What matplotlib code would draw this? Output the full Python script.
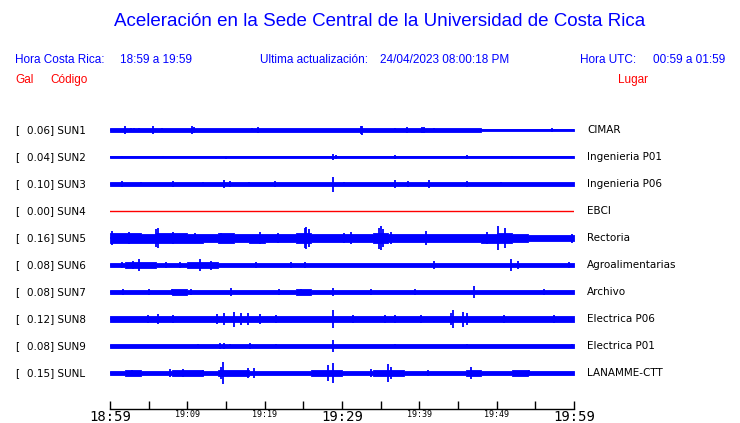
import numpy as np
import matplotlib.pyplot as plt

# estaciones y picos (Gal)
codigos = ['SUN1', 'SUN2', 'SUN3', 'SUN4', 'SUN5', 'SUN6', 'SUN7', 'SUN8', 'SUN9', 'SUNL']
lugares = ['CIMAR', 'Ingenieria P01', 'Ingenieria P06', 'EBCI', 'Rectoria',
           'Agroalimentarias', 'Archivo', 'Electrica P06', 'Electrica P01', 'LANAMME-CTT']
picos = [0.06, 0.04, 0.10, 0.00, 0.16, 0.08, 0.08, 0.12, 0.08, 0.15]

# envolvente del ruido, bloques de 2 minutos (Gal)
env_sun1 = [0.026, 0.026, 0.026, 0.026, 0.024, 0.024, 0.026, 0.026, 0.024, 0.024,
            0.024, 0.024, 0.022, 0.022, 0.024, 0.024, 0.024, 0.026, 0.024, 0.024,
            0.024, 0.024, 0.024, 0.022, 0.018, 0.014, 0.018, 0.014, 0.018, 0.014]
env_sun2 = [0.018, 0.018, 0.016, 0.018, 0.012, 0.018, 0.016, 0.018, 0.014, 0.010,
            0.016, 0.008, 0.014, 0.010, 0.016, 0.014, 0.008, 0.014, 0.018, 0.016,
            0.018, 0.014, 0.010, 0.016, 0.008, 0.014, 0.010, 0.008, 0.012, 0.008]
env_sun3 = [0.030, 0.028, 0.028, 0.030, 0.028, 0.028, 0.028, 0.030, 0.028, 0.028,
            0.028, 0.028, 0.026, 0.026, 0.028, 0.026, 0.028, 0.028, 0.028, 0.030,
            0.028, 0.028, 0.028, 0.028, 0.028, 0.030, 0.032, 0.032, 0.032, 0.032]
env_sun4 = [0.0] * 30
env_sun5 = [0.066, 0.062, 0.060, 0.064, 0.068, 0.060, 0.058, 0.064, 0.058, 0.060,
            0.056, 0.058, 0.068, 0.058, 0.054, 0.052, 0.056, 0.070, 0.056, 0.054,
            0.056, 0.054, 0.052, 0.054, 0.060, 0.066, 0.048, 0.046, 0.046, 0.046]
env_sun6 = [0.032, 0.036, 0.034, 0.030, 0.032, 0.034, 0.036, 0.030, 0.028, 0.028,
            0.030, 0.028, 0.028, 0.026, 0.026, 0.026, 0.026, 0.026, 0.026, 0.026,
            0.028, 0.030, 0.026, 0.026, 0.028, 0.028, 0.030, 0.030, 0.030, 0.030]
env_sun7 = [0.032, 0.032, 0.032, 0.032, 0.034, 0.032, 0.032, 0.032, 0.032, 0.030,
            0.032, 0.032, 0.034, 0.032, 0.032, 0.032, 0.030, 0.032, 0.030, 0.030,
            0.030, 0.030, 0.030, 0.030, 0.032, 0.030, 0.030, 0.030, 0.030, 0.030]
env_sun8 = [0.038, 0.038, 0.040, 0.042, 0.040, 0.038, 0.040, 0.044, 0.044, 0.042,
            0.038, 0.038, 0.036, 0.040, 0.038, 0.040, 0.038, 0.040, 0.038, 0.042,
            0.042, 0.044, 0.046, 0.044, 0.040, 0.040, 0.040, 0.038, 0.040, 0.040]
env_sun9 = [0.023, 0.023, 0.023, 0.023, 0.023, 0.023, 0.023, 0.024, 0.024, 0.023,
            0.023, 0.023, 0.023, 0.023, 0.023, 0.024, 0.023, 0.023, 0.023, 0.023,
            0.023, 0.024, 0.023, 0.023, 0.023, 0.023, 0.023, 0.023, 0.023, 0.023]
env_sunl = [0.032, 0.034, 0.032, 0.032, 0.036, 0.036, 0.032, 0.040, 0.034, 0.032,
            0.032, 0.032, 0.032, 0.036, 0.038, 0.032, 0.032, 0.034, 0.036, 0.032,
            0.032, 0.032, 0.032, 0.038, 0.032, 0.032, 0.034, 0.032, 0.032, 0.032]

# picos sueltos: (minuto desde 18:59, amplitud en Gal)
pk_sun1 = [(2.0, 0.058), (2.7, 0.031), (3.1, 0.031), (3.8, 0.022), (5.6, 0.058),
           (6.75, 0.031), (10.6, 0.058), (10.9, 0.035), (18.3, 0.030), (19.1, 0.040),
           (32.4, 0.050), (32.6, 0.060), (36.8, 0.030), (38.4, 0.040), (40.3, 0.040),
           (40.6, 0.035), (41.9, 0.031), (57.2, 0.022)]
pk_sun2 = [(1.5, 0.018), (6.8, 0.018), (15.0, 0.020), (28.9, 0.040), (29.2, 0.022),
           (36.8, 0.024), (46.2, 0.022), (52.0, 0.018)]
pk_sun3 = [(1.5, 0.036), (4.0, 0.032), (8.2, 0.036), (12.0, 0.032), (14.75, 0.050),
           (15.5, 0.040), (18.0, 0.032), (21.4, 0.036), (28.9, 0.100), (30.3, 0.032),
           (36.8, 0.058), (38.5, 0.036), (41.3, 0.050), (46.2, 0.036), (50.5, 0.032)]
pk_sun4 = []
pk_sun5 = [(0.3, 0.090), (2.4, 0.075), (6.0, 0.120), (6.2, 0.135), (8.2, 0.075),
           (11.0, 0.070), (14.4, 0.070), (19.4, 0.075), (21.7, 0.070), (25.2, 0.130),
           (25.4, 0.150), (25.7, 0.120), (30.3, 0.070), (31.1, 0.075), (34.8, 0.140),
           (35.0, 0.155), (35.3, 0.120), (36.3, 0.075), (40.9, 0.090), (48.8, 0.075),
           (50.2, 0.160), (51.1, 0.130), (59.8, 0.060)]
pk_sun6 = [(1.5, 0.045), (3.0, 0.055), (3.7, 0.075), (7.3, 0.042), (9.0, 0.042),
           (11.6, 0.080), (13.0, 0.060), (18.9, 0.042), (23.4, 0.042), (25.2, 0.042),
           (41.9, 0.055), (51.8, 0.080), (52.7, 0.055), (59.4, 0.042)]
pk_sun7 = [(1.7, 0.042), (5.0, 0.040), (8.0, 0.042), (10.5, 0.040), (15.7, 0.055),
           (21.9, 0.040), (24.7, 0.045), (28.8, 0.048), (33.8, 0.042), (39.4, 0.042),
           (47.1, 0.075), (56.1, 0.042)]
pk_sun8 = [(4.9, 0.050), (6.2, 0.065), (8.2, 0.055), (13.8, 0.065), (14.8, 0.075),
           (16.0, 0.100), (17.0, 0.075), (17.8, 0.085), (19.4, 0.065), (21.5, 0.055),
           (28.9, 0.120), (31.4, 0.055), (35.5, 0.055), (36.8, 0.055), (40.2, 0.055),
           (44.1, 0.075), (44.4, 0.115), (45.7, 0.100), (46.2, 0.080), (51.0, 0.050),
           (57.4, 0.055)]
pk_sun9 = [(11.4, 0.032), (14.2, 0.035), (14.8, 0.035), (15.5, 0.032), (18.1, 0.035),
           (21.5, 0.032), (28.9, 0.080), (36.8, 0.032), (46.2, 0.032), (59.8, 0.028)]
pk_sunl = [(2.8, 0.045), (7.7, 0.050), (9.5, 0.055), (12.0, 0.045), (14.3, 0.080),
           (14.6, 0.150), (17.8, 0.070), (18.6, 0.070), (28.2, 0.110), (28.9, 0.130),
           (33.8, 0.055), (35.9, 0.115), (36.3, 0.080), (41.1, 0.045), (46.7, 0.075),
           (54.2, 0.045)]

envolventes = [env_sun1, env_sun2, env_sun3, env_sun4, env_sun5,
               env_sun6, env_sun7, env_sun8, env_sun9, env_sunl]
picos_sueltos = [pk_sun1, pk_sun2, pk_sun3, pk_sun4, pk_sun5,
                 pk_sun6, pk_sun7, pk_sun8, pk_sun9, pk_sunl]

ticks_min = list(range(0, 61, 5))
tick_labels = ['18:59', '', '19:09', '', '19:19', '', '19:29', '', '19:39', '', '19:49', '', '19:59']

azul = '#0000ff'
rojo = '#ff0000'
sep = 0.36  # separacion entre trazas en Gal

W, H = 740, 423
fig = plt.figure(figsize=(W / 100, H / 100), dpi=100)
ax = fig.add_axes([110 / W, 1 - 409 / H, 464 / W, 299 / H])
ax.set_xlim(0, 60)
ax.set_ylim(-3.72, 0.2667)

for i, cod in enumerate(codigos):
    y0 = -i * sep
    env = np.array(envolventes[i])
    edges = np.linspace(0, 60, len(env) + 1)
    xs = np.repeat(edges, 2)[1:-1]
    ys = np.repeat(env, 2)
    if picos[i] == 0:
        ax.plot([0, 60], [y0, y0], color=rojo, lw=1)
    else:
        ax.fill_between(xs, y0 - ys, y0 + ys, facecolor=azul, edgecolor=azul, lw=0.6)
        ax.plot([0, 60], [y0, y0], color=azul, lw=1.2)
        for t, a in picos_sueltos[i]:
            ax.vlines(t, y0 - a, y0 + a, color=azul, lw=1.3)
    ax.text(-95 / 464 * 60, y0, '[', ha='left', va='center', fontsize=7.5, color='black')
    ax.text(-83 / 464 * 60, y0, '%.2f] %s' % (picos[i], cod), ha='left', va='center',
            fontsize=7.5, color='black')
    ax.text(61.7, y0, lugares[i], ha='left', va='center', fontsize=7.5, color='black')

for s in ['top', 'left', 'right']:
    ax.spines[s].set_visible(False)
ax.spines['bottom'].set_linewidth(1)
ax.set_yticks([])
ax.set_xticks(ticks_min)
ax.set_xticklabels(tick_labels, family='DejaVu Sans Mono')
ax.tick_params(axis='x', direction='in', length=6, width=1, pad=1)
for k, lab in enumerate(ax.get_xticklabels()):
    lab.set_fontsize(10 if ticks_min[k] % 30 == 0 else 6)
    lab.set_verticalalignment('top')

# textos de cabecera
fam = 'Liberation Sans'
fig.text(380 / W, 1 - 22 / H, 'Aceleración en la Sede Central de la Universidad de Costa Rica',
         ha='center', va='center', color=azul, fontsize=13.5, family=fam)
y2 = 1 - 60 / H
fig.text(15 / W, y2, 'Hora Costa Rica:', ha='left', va='center', color=azul, fontsize=8.5, family=fam)
fig.text(120 / W, y2, '18:59 a 19:59', ha='left', va='center', color=azul, fontsize=8.5, family=fam)
fig.text(260 / W, y2, 'Ultima actualización:', ha='left', va='center', color=azul, fontsize=8.5, family=fam)
fig.text(380 / W, y2, '24/04/2023 08:00:18 PM', ha='left', va='center', color=azul, fontsize=8.5, family=fam)
fig.text(580 / W, y2, 'Hora UTC:', ha='left', va='center', color=azul, fontsize=8.5, family=fam)
fig.text(725 / W, y2, '00:59 a 01:59', ha='right', va='center', color=azul, fontsize=8.5, family=fam)
y3 = 1 - 80 / H
fig.text(15 / W, y3, 'Gal', ha='left', va='center', color=rojo, fontsize=8.5, family=fam)
fig.text(50 / W, y3, 'Código', ha='left', va='center', color=rojo, fontsize=8.5, family=fam)
fig.text(648 / W, y3, 'Lugar', ha='right', va='center', color=rojo, fontsize=8.5, family=fam)

fig.savefig('out.png', dpi=100)
